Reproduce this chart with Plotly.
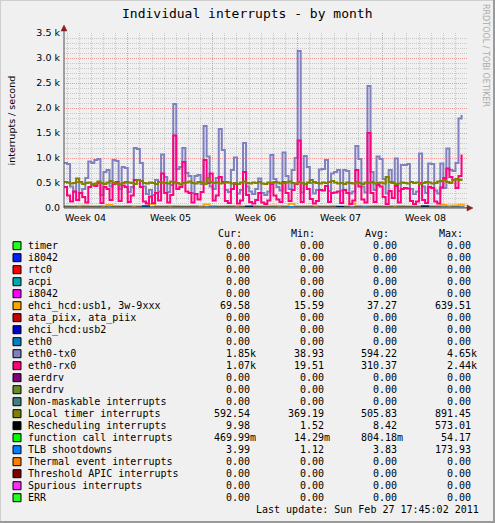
import plotly.graph_objects as go

# ---------------- data ----------------
labels = ["timer", "i8042", "rtc0", "acpi", "i8042", "ehci_hcd:usb1, 3w-9xxx",
          "ata_piix, ata_piix", "ehci_hcd:usb2", "eth0", "eth0-tx0", "eth0-rx0",
          "aerdrv", "aerdrv", "Non-maskable interrupts", "Local timer interrupts",
          "Rescheduling interrupts", "function call interrupts", "TLB shootdowns",
          "Thermal event interrupts", "Threshold APIC interrupts", "Spurious interrupts", "ERR"]
colors = ["#22ff22", "#0022ff", "#ff0000", "#00aaaa", "#ff00ff", "#ffa500", "#cc0000",
          "#0000cc", "#0080c0", "#8080c0", "#ff0080", "#800080", "#688e23", "#408080",
          "#808000", "#000000", "#00ff00", "#0080ff", "#ff8000", "#800000", "#fb31fb", "#22ff22"]
cur_vals = ["0.00", "0.00", "0.00", "0.00", "0.00", "69.58", "0.00", "0.00", "0.00", "1.85k", "1.07k",
            "0.00", "0.00", "0.00", "592.54", "9.98", "469.99m", "3.99", "0.00", "0.00", "0.00", "0.00"]
min_vals = ["0.00", "0.00", "0.00", "0.00", "0.00", "15.59", "0.00", "0.00", "0.00", "38.93", "19.51",
            "0.00", "0.00", "0.00", "369.19", "1.52", "14.29m", "1.12", "0.00", "0.00", "0.00", "0.00"]
avg_vals = ["0.00", "0.00", "0.00", "0.00", "0.00", "37.27", "0.00", "0.00", "0.00", "594.22", "310.37",
            "0.00", "0.00", "0.00", "505.83", "8.42", "804.18m", "3.83", "0.00", "0.00", "0.00", "0.00"]
max_vals = ["0.00", "0.00", "0.00", "0.00", "0.00", "639.51", "0.00", "0.00", "0.00", "4.65k", "2.44k",
            "0.00", "0.00", "0.00", "891.45", "573.01", "54.17", "173.93", "0.00", "0.00", "0.00", "0.00"]

# main series, one value per 6 hours (days from start of graph)
eth0_tx0 = [900, 880, 430, 330, 520, 300, 380, 600, 930, 900,
            960, 980, 260, 720, 760, 430, 960, 940, 380, 820,
            800, 320, 420, 1200, 1180, 900, 430, 280, 360, 260,
            560, 330, 1070, 620, 320, 460, 2080, 780, 820, 1200,
            700, 640, 300, 640, 660, 480, 1640, 1030, 430, 380,
            600, 1580, 1160, 360, 320, 760, 1010, 290, 360, 1300,
            430, 330, 280, 380, 590, 300, 260, 330, 1060, 580,
            420, 350, 1110, 640, 380, 760, 1000, 3140, 310, 1040,
            820, 500, 290, 360, 770, 780, 960, 340, 690, 720,
            760, 350, 760, 740, 290, 330, 1240, 980, 430, 310,
            2440, 720, 360, 1030, 980, 580, 290, 760, 520, 990,
            340, 860, 860, 880, 380, 280, 330, 1090, 430, 300,
            890, 880, 350, 290, 890, 400, 1190, 760, 740, 900,
            1790, 1860]
eth0_rx0 = [420, 250, 130, 330, 160, 300, 220, 110, 420, 470,
            440, 500, 100, 420, 380, 160, 480, 520, 140, 450,
            420, 120, 250, 560, 560, 420, 130, 90, 230, 100,
            300, 150, 690, 300, 110, 260, 1450, 380, 420, 920,
            330, 300, 110, 280, 170, 320, 960, 500, 690, 150,
            250, 620, 520, 140, 100, 380, 480, 90, 150, 720,
            260, 120, 90, 160, 300, 110, 80, 150, 480, 250,
            170, 120, 520, 300, 140, 360, 480, 1350, 120, 480,
            380, 180, 90, 140, 360, 350, 440, 120, 300, 310,
            330, 100, 360, 300, 80, 150, 760, 430, 170, 110,
            1500, 300, 120, 460, 430, 220, 80, 340, 200, 440,
            110, 380, 400, 390, 140, 80, 130, 500, 160, 100,
            420, 400, 130, 90, 410, 600, 790, 620, 560, 400,
            640, 1070]
local_timer = [520, 510, 490, 500, 590, 520, 480, 500, 510, 470,
               490, 530, 500, 480, 510, 540, 500, 490, 470, 500,
               520, 510, 500, 480, 560, 540, 500, 490, 510, 500,
               480, 520, 510, 500, 490, 530, 520, 500, 470, 500,
               510, 530, 500, 490, 520, 510, 480, 600, 520, 500,
               510, 490, 500, 520, 510, 490, 500, 480, 510, 530,
               500, 490, 510, 500, 520, 490, 480, 510, 500, 520,
               510, 490, 500, 510, 530, 500, 490, 520, 500, 480,
               510, 560, 520, 500, 490, 510, 500, 520, 540, 510,
               490, 500, 480, 510, 500, 490, 520, 500, 480, 510,
               500, 520, 490, 500, 510, 490, 620, 520, 500, 480,
               490, 510, 500, 490, 520, 500, 510, 480, 500, 520,
               510, 490, 500, 530, 540, 560, 520, 500, 560, 580,
               560, 590]
# small series, one value per 12 hours
ehci_usb1 = [40, 35, 38, 45, 36, 33, 40, 60, 38, 35,
             42, 37, 34, 39, 80, 36, 35, 41, 38, 33,
             37, 40, 36, 70, 39, 35, 34, 38, 42, 37,
             36, 39, 35, 33, 45, 38, 36, 85, 37, 35,
             40, 38, 34, 36, 39, 37, 35, 90, 38, 36,
             34, 40, 37, 35, 38, 42, 36, 34, 37, 39,
             41, 38, 60, 45, 50, 65, 70]
resched = [8, 9, 7, 8, 10, 8, 7, 9, 8, 8,
           9, 7, 8, 30, 8, 9, 8, 7, 8, 9,
           8, 8, 7, 9, 10, 8, 8, 9, 7, 8,
           25, 8, 9, 8, 8, 7, 9, 8, 8, 9,
           8, 7, 8, 9, 8, 20, 8, 8, 9, 7,
           8, 8, 9, 8, 7, 8, 9, 8, 8, 30,
           8, 9, 8, 7, 8, 9, 10]
func_call = [0.8, 0.7, 0.9, 0.6, 0.8, 1.2, 0.7, 0.8, 0.9, 0.6,
             0.7, 0.8, 2.5, 0.7, 0.9, 0.8, 0.6, 0.7, 0.8, 0.9,
             0.7, 0.8, 0.6, 0.9, 0.8, 0.7, 1.1, 0.8, 0.7, 0.9,
             0.8, 0.6, 0.7, 0.8, 0.9, 0.7, 0.8, 0.6, 0.9, 0.8,
             0.7, 0.8, 0.9, 0.7, 0.6, 0.8, 0.7, 0.9, 0.8, 0.7,
             0.6, 0.8, 0.9, 0.7, 0.8, 0.7, 0.6, 0.8, 0.9, 0.7,
             0.8, 0.6, 0.7, 0.5, 0.6, 0.5, 0.47]
tlb = [4, 3.8, 4.2, 3.9, 4, 3.7, 4.1, 6, 3.9, 3.8,
       4, 3.6, 4.2, 12, 3.9, 4, 3.8, 4.1, 3.7, 4,
       3.9, 4.2, 3.8, 4, 9, 3.9, 4.1, 3.8, 4, 3.7,
       4, 3.9, 4.1, 3.8, 4, 3.9, 4.2, 14, 3.8, 4,
       3.9, 4.1, 3.7, 4, 3.8, 4.2, 3.9, 4, 3.8, 8,
       4, 3.9, 4.1, 3.8, 4, 3.7, 4.2, 3.9, 4, 3.8,
       4.1, 3.9, 4, 3.8, 4.1, 4, 3.99]
zero_series = [0, 0]

week_labels = ["Week 04", "Week 05", "Week 06", "Week 07", "Week 08"]
week_label_days = [1.75, 8.75, 15.75, 22.75, 29.75]
week_start_days = [5.25, 12.25, 19.25, 26.25]
ytick_vals = [0, 500, 1000, 1500, 2000, 2500, 3000, 3500]
ytick_text = ["0.0", "0.5 k", "1.0 k", "1.5 k", "2.0 k", "2.5 k", "3.0 k", "3.5 k"]
title_text = "Individual interrupts - by month"
last_update = "Last update: Sun Feb 27 17:45:02 2011"

# ---------------- layout helpers ----------------
W, H = 495, 523
PL, PR, PT, PB = 64, 467, 33, 208
X_RANGE = [0, 33.2]
CHAR_W = 6.02


def px(x):
    return (x - PL) / (PR - PL)


def py(y):
    return (PB - y) / (PB - PT)


series_map = {5: (ehci_usb1, 0.5), 9: (eth0_tx0, 0.25), 10: (eth0_rx0, 0.25),
              14: (local_timer, 0.25), 15: (resched, 0.5), 16: (func_call, 0.5), 17: (tlb, 0.5)}

fig = go.Figure()
for k, lab in enumerate(labels):
    if k in series_map:
        vals, step = series_map[k]
        xs = [i * step for i in range(len(vals))]
    else:
        vals = zero_series
        xs = [X_RANGE[0], X_RANGE[1]]
    fig.add_trace(go.Scatter(x=xs, y=vals, mode="lines", name=lab,
                             line=dict(color=colors[k], width=2, shape="hv"),
                             showlegend=False, hoverinfo="skip"))

BG = "#F0F0F0"
MGRID = "#EB9A9A"
GRID = "#C8C8C8"
AX = "#505050"
ARROW = "#8B1E1E"
MONO = "DejaVu Sans Mono"
SANS = "DejaVu Sans"

fig.update_layout(
    width=W, height=H, paper_bgcolor=BG, plot_bgcolor=BG,
    margin=dict(l=PL, r=W - PR, t=PT, b=H - PB, pad=0),
    showlegend=False,
    xaxis=dict(range=X_RANGE, tickmode="array", tickvals=week_start_days,
               ticktext=["" for _ in week_start_days], ticks="", showticklabels=False,
               showgrid=True, gridcolor=MGRID, griddash="1px,1px", gridwidth=1,
               zeroline=False, showline=False, layer="above traces",
               minor=dict(tickmode="linear", tick0=0.25, dtick=1, showgrid=True,
                          gridcolor=GRID, griddash="1px,1px", gridwidth=1, ticks="")),
    yaxis=dict(range=[0, 3500], tickmode="array", tickvals=ytick_vals, ticktext=ytick_text,
               ticks="", ticklabelstandoff=3,
               tickfont=dict(family=SANS, size=9.5, color="#000000"),
               showgrid=True, gridcolor=MGRID, griddash="1px,1px", gridwidth=1,
               zeroline=False, showline=False,
               minor=dict(tickmode="linear", tick0=0, dtick=100, showgrid=True,
                          gridcolor=GRID, griddash="1px,1px", gridwidth=1, ticks="")),
)

shapes = []
annos = []

# axis lines + arrows
shapes.append(dict(type="line", xref="paper", yref="paper", x0=px(64), x1=px(64),
                   y0=py(208), y1=py(29), line=dict(color=AX, width=1), layer="above"))
shapes.append(dict(type="line", xref="paper", yref="paper", x0=px(64), x1=px(469),
                   y0=py(208), y1=py(208), line=dict(color=AX, width=1), layer="above"))
shapes.append(dict(type="path", xref="paper", yref="paper",
                   path=f"M {px(61)} {py(31)} L {px(67)} {py(31)} L {px(64)} {py(25)} Z",
                   fillcolor=ARROW, line=dict(color=ARROW, width=0.5), layer="above"))
shapes.append(dict(type="path", xref="paper", yref="paper",
                   path=f"M {px(467)} {py(205)} L {px(467)} {py(211)} L {px(473)} {py(208)} Z",
                   fillcolor=ARROW, line=dict(color=ARROW, width=0.5), layer="above"))

# outer frame (3d shade)
shapes.append(dict(type="line", xref="paper", yref="paper", x0=px(0.5), x1=px(0.5),
                   y0=py(0), y1=py(523), line=dict(color="#CFCFCF", width=1)))
shapes.append(dict(type="line", xref="paper", yref="paper", x0=px(0), x1=px(495),
                   y0=py(0.5), y1=py(0.5), line=dict(color="#CFCFCF", width=1)))
shapes.append(dict(type="line", xref="paper", yref="paper", x0=px(494), x1=px(494),
                   y0=py(0), y1=py(523), line=dict(color="#9A9A9A", width=2)))
shapes.append(dict(type="line", xref="paper", yref="paper", x0=px(0), x1=px(495),
                   y0=py(522), y1=py(522), line=dict(color="#9A9A9A", width=2)))

# title, axis title, watermark
annos.append(dict(text=title_text, xref="paper", yref="paper", x=px(246.5), y=py(13.5),
                  xanchor="center", yanchor="middle", showarrow=False,
                  font=dict(family=MONO, size=13, color="#000000")))
annos.append(dict(text="interrupts / second", xref="paper", yref="paper", x=px(11), y=py(120.5),
                  xanchor="center", yanchor="middle", showarrow=False, textangle=-90,
                  font=dict(family=SANS, size=9.5, color="#000000")))
annos.append(dict(text="RRDTOOL / TOBI OETIKER", xref="paper", yref="paper", x=px(486), y=py(56),
                  xanchor="center", yanchor="middle", showarrow=False, textangle=90,
                  font=dict(family=SANS, size=8, color="#AAAAAA")))

# week labels
for d, lab in zip(week_label_days, week_labels):
    annos.append(dict(text=lab, xref="x", yref="paper", x=d, y=py(217),
                      xanchor="center", yanchor="middle", showarrow=False,
                      font=dict(family=SANS, size=9.5, color="#000000")))

# legend table
col_right = [251, 324.5, 398.3, 471.7]
head_right = [242.5, 316, 390, 464]
for hx, h in zip(head_right, ["Cur:", "Min:", "Avg:", "Max:"]):
    annos.append(dict(text=h, xref="paper", yref="paper", x=px(hx), y=py(233.7),
                      xanchor="right", yanchor="middle", showarrow=False, borderpad=0,
                      font=dict(family=MONO, size=10, color="#000000")))

for k, lab in enumerate(labels):
    yc = 245.7 + 12 * k
    shapes.append(dict(type="rect", xref="paper", yref="paper",
                       x0=px(13), x1=px(21), y0=py(yc - 4), y1=py(yc + 4),
                       fillcolor=colors[k], line=dict(color="#000000", width=1)))
    annos.append(dict(text=lab, xref="paper", yref="paper", x=px(26.5), y=py(yc),
                      xanchor="left", yanchor="middle", showarrow=False, borderpad=0,
                      font=dict(family=MONO, size=10, color="#000000")))
    for cx, v in zip(col_right, [cur_vals[k], min_vals[k], avg_vals[k], max_vals[k]]):
        has_unit = v[-1].isalpha()
        annos.append(dict(text=v, xref="paper", yref="paper",
                          x=px(cx + (CHAR_W if has_unit else 0)), y=py(yc),
                          xanchor="right", yanchor="middle", showarrow=False, borderpad=0,
                          font=dict(family=MONO, size=10, color="#000000")))

annos.append(dict(text=last_update, xref="paper", yref="paper", x=px(480), y=py(509.5),
                  xanchor="right", yanchor="middle", showarrow=False, borderpad=0,
                  font=dict(family=MONO, size=10, color="#000000")))

fig.update_layout(shapes=shapes, annotations=annos)
fig.write_html("out.html")
